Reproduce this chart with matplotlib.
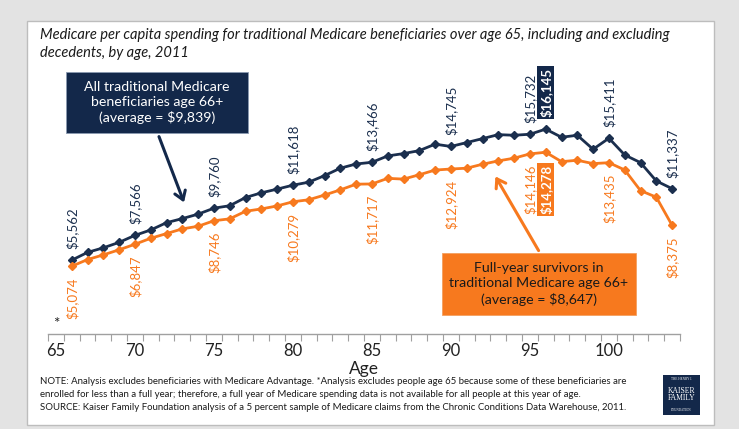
import matplotlib
matplotlib.use("Agg")
import matplotlib.pyplot as plt
from matplotlib.patches import Rectangle, FancyArrowPatch

W, H = 739, 429

ages = list(range(66, 105))
all_benef = [5562, 6190, 6560, 7000, 7566, 8000, 8590, 8920, 9280, 9760,
             9960, 10620, 11000, 11300, 11618, 11860, 12390, 12990, 13330, 13466,
             13980, 14170, 14410, 14930, 14745, 15060, 15380, 15700, 15650, 15732,
             16145, 15490, 15650, 14520, 15411, 14060, 13440, 11960, 11337]
survivors = [5074, 5610, 5990, 6400, 6847, 7330, 7710, 8090, 8300, 8746,
             8900, 9510, 9700, 9940, 10279, 10440, 10820, 11240, 11700, 11717,
             12170, 12110, 12460, 12840, 12924, 12990, 13310, 13580, 13800, 14146,
             14278, 13520, 13630, 13360, 13435, 12850, 11180, 10650, 8375]
label_ages = [66, 70, 75, 80, 85, 90, 95, 96, 100, 104]
boxed_age = 96
tick_ages = [65, 70, 75, 80, 85, 90, 95, 100]

NAVY = "#1B2F4E"
BOXNAVY = "#13284A"
ORANGE = "#F7791E"
FONT = ["Lato", "DejaVu Sans"]
plt.rcParams['font.family'] = FONT

fig = plt.figure(figsize=(W / 100, H / 100), dpi=100)
fig.patch.set_facecolor("#E3E3E3")

def fx(x):
    return x / W

def fy(y):
    return 1 - y / H

# white panel
fig.patches.append(Rectangle((fx(27), fy(425)), fx(714) - fx(27), fy(21) - fy(425),
                             transform=fig.transFigure, facecolor="white",
                             edgecolor="#BDBDBD", linewidth=1.0, zorder=-10))

ax_l, ax_r, ax_t, ax_b = 48, 680, 70, 334
ax = fig.add_axes([fx(ax_l), fy(ax_b), fx(ax_r) - fx(ax_l), fy(ax_t) - fy(ax_b)])
ax.set_zorder(1)
ax.set_facecolor("none")
ax.set_xlim(64.5, 104.5)
ax.set_ylim(-400, 20920)
for s in ["top", "right", "left"]:
    ax.spines[s].set_visible(False)
ax.spines["bottom"].set_color("#A0A0A0")
ax.spines["bottom"].set_linewidth(1.0)
ax.set_yticks([])
ax.set_xticks([a - 0.5 for a in range(65, 106)], minor=False)
ax.set_xticklabels([])
ax.tick_params(axis="x", which="major", length=5, color="#A0A0A0", direction="out")
ax.set_xticks(tick_ages, minor=True)
ax.set_xticklabels([str(t) for t in tick_ages], minor=True, fontsize=12, color="#222222")
ax.tick_params(axis="x", which="minor", length=0, pad=6.5)
ax.set_xlabel("Age", fontsize=12.5, color="#222222")
ax.xaxis.label.set_va("center")
ax.xaxis.set_label_coords(0.5, (ax_b - 369) / (ax_b - ax_t))

ax.plot(ages, all_benef, color=NAVY, lw=2, marker="D", ms=4, zorder=3)
ax.plot(ages, survivors, color=ORANGE, lw=2, marker="D", ms=4, zorder=3)

for a, v in zip(ages, all_benef):
    if a in label_ages:
        if a == boxed_age:
            ax.annotate(f"${v:,}", (a, v), xytext=(0, 9), textcoords="offset points",
                        rotation=90, ha="center", va="bottom", fontsize=9.5,
                        color="white", fontweight="bold",
                        bbox=dict(boxstyle="square,pad=0.15", fc=BOXNAVY, ec="none"))
        else:
            ax.annotate(f"${v:,}", (a, v), xytext=(0, 8), textcoords="offset points",
                        rotation=90, ha="center", va="bottom", fontsize=9.5, color=NAVY)
for a, v in zip(ages, survivors):
    if a in label_ages:
        if a == boxed_age:
            ax.annotate(f"${v:,}", (a, v), xytext=(0, -9), textcoords="offset points",
                        rotation=90, ha="center", va="top", fontsize=9.5,
                        color="white", fontweight="bold",
                        bbox=dict(boxstyle="square,pad=0.15", fc=ORANGE, ec="none"))
        else:
            ax.annotate(f"${v:,}", (a, v), xytext=(0, -8), textcoords="offset points",
                        rotation=90, ha="center", va="top", fontsize=9.5, color=ORANGE)

# asterisk for age 65
ax.text(65, -170, "*", ha="center", va="bottom", fontsize=11, color="#222222")

# title
fig.text(fx(40), fy(28), "Medicare per capita spending for traditional Medicare beneficiaries over age 65, including and excluding\ndecedents, by age, 2011",
         ha="left", va="top", fontsize=10.5, style="italic", color="#1A1A1A", linespacing=1.35)

# navy callout
fig.patches.append(Rectangle((fx(66), fy(133)), fx(248) - fx(66), fy(72) - fy(133),
                             transform=fig.transFigure, facecolor=BOXNAVY,
                             edgecolor="#8A9AB0", linewidth=0.6, zorder=5))
fig.text(fx(157), fy(102.5), "All traditional Medicare\nbeneficiaries age 66+\n(average = $9,839)",
         ha="center", va="center", fontsize=10.2, color="white", linespacing=1.3, zorder=6)
fig.patches.append(FancyArrowPatch((fx(158), fy(134)), (fx(185), fy(205)),
                                   transform=fig.transFigure, arrowstyle="->,head_length=6,head_width=4",
                                   color=BOXNAVY, lw=2.2, zorder=5))

# orange callout
fig.patches.append(Rectangle((fx(442), fy(315)), fx(636) - fx(442), fy(253) - fy(315),
                             transform=fig.transFigure, facecolor=ORANGE,
                             edgecolor="#F4A060", linewidth=0.6, zorder=5))
fig.text(fx(539), fy(284), "Full-year survivors in\ntraditional Medicare age 66+\n(average = $8,647)",
         ha="center", va="center", fontsize=10.2, color="#1A1A1A", linespacing=1.3, zorder=6)
fig.patches.append(FancyArrowPatch((fx(540), fy(253)), (fx(494), fy(174)),
                                   transform=fig.transFigure, arrowstyle="->,head_length=6,head_width=4",
                                   color=ORANGE, lw=2.2, zorder=5))

# notes
notes = ("NOTE: Analysis excludes beneficiaries with Medicare Advantage. *Analysis excludes people age 65 because some of these beneficiaries are\n"
         "enrolled for less than a full year; therefore, a full year of Medicare spending data is not available for all people at this year of age.\n"
         "SOURCE: Kaiser Family Foundation analysis of a 5 percent sample of Medicare claims from the Chronic Conditions Data Warehouse, 2011.")
fig.text(fx(40), fy(377), notes, ha="left", va="top", fontsize=6.9, color="#1A1A1A",
         linespacing=1.6)

# logo
fig.patches.append(Rectangle((fx(663), fy(415)), fx(700) - fx(663), fy(375) - fy(415),
                             transform=fig.transFigure, facecolor=BOXNAVY, edgecolor="none", zorder=5))
fig.text(fx(681.5), fy(379.5), "THE HENRY J.", ha="center", va="center", fontsize=2.3, color="white",
         family=["Liberation Serif"], zorder=6)
fig.text(fx(681.5), fy(394.5), "KAISER\nFAMILY", ha="center", va="center", fontsize=5.5, color="white",
         family=["Liberation Serif"], linespacing=0.95, zorder=6)
fig.text(fx(681.5), fy(410), "FOUNDATION", ha="center", va="center", fontsize=2.3, color="white",
         family=["Liberation Serif"], zorder=6)

fig.savefig("out.png", dpi=100, facecolor=fig.get_facecolor())
